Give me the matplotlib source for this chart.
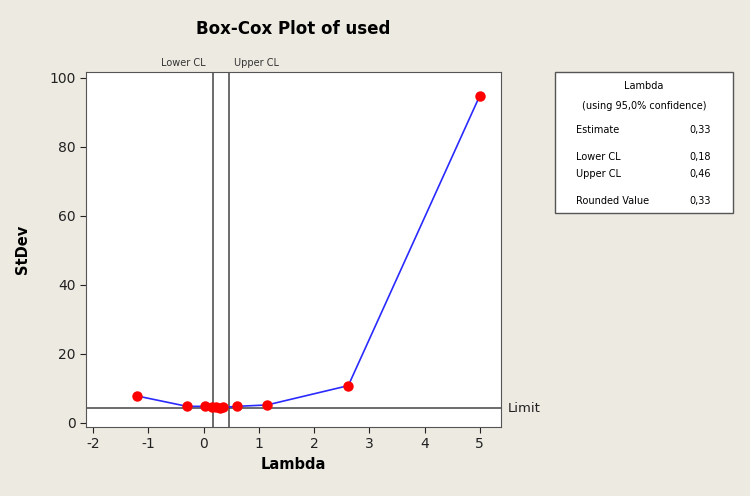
import matplotlib
matplotlib.use("Agg")
import matplotlib.pyplot as plt
from matplotlib.patches import Rectangle

plt.rcParams["axes.unicode_minus"] = False

# Box-Cox data
lam = [-1.2, -0.3, 0.02, 0.15, 0.23, 0.30, 0.36, 0.60, 1.15, 2.62, 5.0]
stdev = [7.8, 4.8, 4.8, 4.7, 4.5, 4.4, 4.5, 4.8, 5.2, 10.8, 94.8]
limit = 4.3
lower_cl = 0.18
upper_cl = 0.46
xticks = [-2, -1, 0, 1, 2, 3, 4, 5]
yticks = [0, 20, 40, 60, 80, 100]
panel_rows = [("Estimate", "0,33"), ("Lower CL", "0,18"),
              ("Upper CL", "0,46"), ("Rounded Value", "0,33")]

bg = "#edeae2"
fig = plt.figure(figsize=(7.5, 4.96), dpi=100, facecolor=bg)
ax = fig.add_axes([0.1147, 0.139, 0.553, 0.716])

ax.plot(lam, stdev, color="#2a2aff", lw=1.2, zorder=3)
ax.plot(lam, stdev, "o", color="#ff0000", ms=6.5, mec="#ff0000", zorder=4)
ax.axhline(limit, color="#444444", lw=1.1, zorder=2)
ax.axvline(lower_cl, color="#444444", lw=1.1, zorder=2)
ax.axvline(upper_cl, color="#444444", lw=1.1, zorder=2)

ax.set_xlim(-2.127, 5.38)
ax.set_ylim(-1.2, 101.7)
ax.set_xticks(xticks)
ax.set_yticks(yticks)
ax.tick_params(direction="out", length=4, labelsize=10, colors="#222222")
for s in ax.spines.values():
    s.set_color("#555555")

ax.set_xlabel("Lambda", fontsize=10.5, fontweight="bold", labelpad=4)
ax.set_ylabel("StDev", fontsize=10.5, fontweight="bold", labelpad=14)
ax.set_title("Box-Cox Plot of used", fontsize=12, fontweight="bold", pad=27)

ax.text(lower_cl - 0.15, 102.8, "Lower CL", ha="right", va="bottom", fontsize=7, color="#333333")
ax.text(upper_cl + 0.1, 102.8, "Upper CL", ha="left", va="bottom", fontsize=7, color="#333333")
ax.text(5.5, limit, "Limit", ha="left", va="center", fontsize=9.5, color="#222222",
        transform=ax.transData, clip_on=False)

# info panel
px, py, pw, ph = 555 / 750, 1 - 213 / 496, 178 / 750, 141 / 496
fig.patches.append(Rectangle((px, py), pw, ph, transform=fig.transFigure,
                             facecolor="white", edgecolor="#555555", lw=1))
cx = px + pw / 2
fig.text(cx, 1 - 86 / 496, "Lambda", ha="center", va="center", fontsize=7)
fig.text(cx, 1 - 106 / 496, "(using 95,0% confidence)", ha="center", va="center", fontsize=7)
row_y = [130, 157, 174, 201]
for (name, val), yy in zip(panel_rows, row_y):
    fig.text(576 / 750, 1 - yy / 496, name, ha="left", va="center", fontsize=7)
    fig.text(711 / 750, 1 - yy / 496, val, ha="right", va="center", fontsize=7)

fig.savefig("out.png", dpi=100, facecolor=bg)
